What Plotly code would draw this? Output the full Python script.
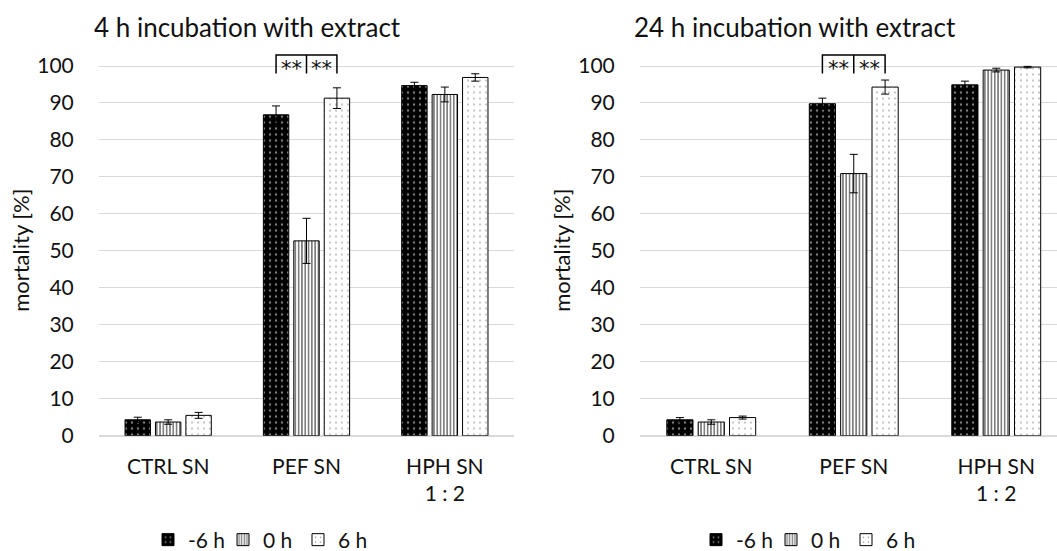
import plotly.graph_objects as go

categories = ["CTRL SN", "PEF SN", "HPH SN<br>1 : 2"]
series = ["-6 h", "0 h", "6 h"]

# 4 h incubation
v4_m6 = [4.3, 86.8, 94.7]
v4_0 = [3.7, 52.7, 92.3]
v4_6 = [5.5, 91.3, 96.9]
e4_m6 = [0.7, 2.4, 0.9]
e4_0 = [0.6, 6.1, 2.0]
e4_6 = [0.8, 2.8, 1.0]

# 24 h incubation
v24_m6 = [4.3, 89.8, 94.9]
v24_0 = [3.7, 70.9, 98.9]
v24_6 = [4.9, 94.3, 99.7]
e24_m6 = [0.6, 1.5, 1.0]
e24_0 = [0.6, 5.2, 0.5]
e24_6 = [0.4, 1.9, 0.2]

titles = ["4 h incubation with extract", "24 h incubation with extract"]
y_title = "mortality [%]"
sig_label = "**"

FONT = "Lato, Open Sans, sans-serif"
TXT = "#111111"
GRID = "#d9d9d9"
W, H = 1057, 551

patterns = [
    dict(marker_color="black", pat=dict(shape=".", fgcolor="white", bgcolor="black", size=6, solidity=0.12)),
    dict(marker_color="white", pat=dict(shape="|", fgcolor="black", bgcolor="white", size=3.3, solidity=0.5)),
    dict(marker_color="white", pat=dict(shape=".", fgcolor="black", bgcolor="white", size=6, solidity=0.06)),
]

bargap = 0.34
bargroupgap = 0.165

fig = go.Figure()
panels = [
    ("x", "y", "legend", [v4_m6, v4_0, v4_6], [e4_m6, e4_0, e4_6]),
    ("x2", "y2", "legend2", [v24_m6, v24_0, v24_6], [e24_m6, e24_0, e24_6]),
]
for xa, ya, lg, vals, errs in panels:
    for s, v, e, p in zip(series, vals, errs, patterns):
        fig.add_trace(go.Bar(
            x=categories, y=v, name=s, xaxis=xa, yaxis=ya, legend=lg,
            marker=dict(color=p["marker_color"], pattern=p["pat"],
                        line=dict(color="black", width=1)),
            error_y=dict(type="data", array=e, visible=True, color="black",
                         thickness=1, width=4),
        ))

px_per_unit = (435.7 - 66) / 100
y_top = 105
dom_bottom = (H - 435.7) / H
dom_top = (H - (435.7 - y_top * px_per_unit)) / H

left_dom = [99 / W, 514 / W]
right_dom = [640 / W, 1.0]
right_range_max = -0.5 + (1057 - 640) / 142.5

axis_common = dict(type="category", showgrid=False, showline=True, linecolor=GRID,
                   linewidth=1, ticks="outside", tickcolor="rgba(0,0,0,0)", ticklen=12,
                   tickfont=dict(family=FONT, size=21, color=TXT), fixedrange=True,
                   automargin=False)
yaxis_common = dict(range=[0, y_top], tickvals=list(range(0, 101, 10)), showgrid=True,
                    gridcolor=GRID, gridwidth=1, zeroline=True, zerolinecolor=GRID,
                    zerolinewidth=1, showline=False, ticks="outside",
                    tickcolor="rgba(0,0,0,0)", ticklen=20, automargin=False,
                    tickfont=dict(family=FONT, size=21, color=TXT),
                    domain=[dom_bottom, dom_top])

leg_common = dict(orientation="h", xref="container", yref="container", xanchor="left",
                  y=11 / H, yanchor="middle", entrywidth=30, bgcolor="rgba(0,0,0,0)",
                  font=dict(family=FONT, size=21, color=TXT))

fig.update_layout(
    width=W, height=H, margin=dict(l=0, r=0, t=0, b=0, autoexpand=False),
    paper_bgcolor="white", plot_bgcolor="white",
    barmode="group", bargap=bargap, bargroupgap=bargroupgap,
    xaxis=dict(domain=left_dom, range=[-0.5, 2.5], anchor="y", **axis_common),
    yaxis=dict(anchor="x", **yaxis_common),
    xaxis2=dict(domain=right_dom, range=[-0.5, right_range_max], anchor="y2", **axis_common),
    yaxis2=dict(anchor="x2", **yaxis_common),
    legend=dict(x=148 / W, **leg_common),
    legend2=dict(x=696 / W, **leg_common),
    showlegend=True,
)

# titles and y-axis titles
for t, xp in zip(titles, [92 / W, 632 / W]):
    fig.add_annotation(text=t, x=xp, xref="paper", xanchor="left", y=1 - 27 / H,
                       yref="paper", yanchor="middle", showarrow=False,
                       font=dict(family=FONT, size=26, color=TXT))
for xp, ya in zip([21 / W, 562 / W], ["y", "y2"]):
    fig.add_annotation(text=y_title, textangle=-90, x=xp, xref="paper", xanchor="center",
                       y=50, yref=ya, yanchor="middle", showarrow=False,
                       font=dict(family=FONT, size=22, color=TXT))

# significance brackets over PEF SN (category index 1)
slot = (1 - bargap) / 3
br_top, br_bottom = 103, 98
for xa, ya in [("x", "y"), ("x2", "y2")]:
    xl, xm, xr = 1 - slot, 1, 1 + slot
    fig.add_shape(type="path", xref=xa, yref=ya,
                  path=f"M {xl} {br_bottom} L {xl} {br_top} L {xr} {br_top} L {xr} {br_bottom}",
                  line=dict(color="black", width=1.5))
    fig.add_shape(type="line", xref=xa, yref=ya, x0=xm, x1=xm, y0=br_bottom, y1=br_top,
                  line=dict(color="black", width=1.5))
    for xc in [(xl + xm) / 2, (xm + xr) / 2]:
        fig.add_annotation(text=sig_label, x=xc, xref=xa, y=99.3, yref=ya, yanchor="middle",
                           showarrow=False, font=dict(family="DejaVu Sans", size=21, color=TXT))

fig.write_html("out.html")
